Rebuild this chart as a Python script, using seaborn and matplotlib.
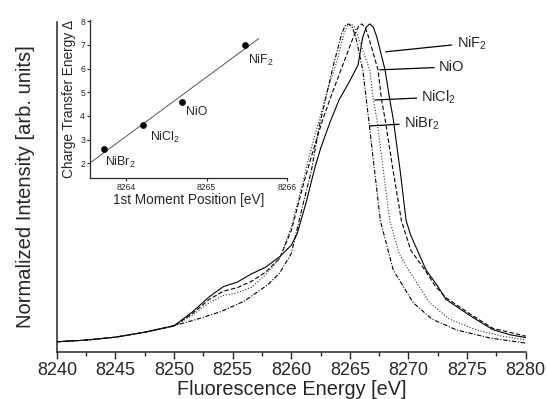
import numpy as np
import pandas as pd
import matplotlib
matplotlib.use("Agg")
import matplotlib.pyplot as plt
import seaborn as sns
from matplotlib.ticker import MultipleLocator

# Ni K-beta spectra (normalized intensity)
samples = ["NiF$_2$", "NiO", "NiCl$_2$", "NiBr$_2$"]

nif2_energy = [8240, 8242.5, 8245, 8247.5, 8250, 8251.5, 8253, 8254.2, 8255.4, 8256.6,
               8257.8, 8259, 8260, 8260.5, 8261.3, 8262, 8262.5, 8263.3, 8264.1, 8264.9,
               8265.7, 8266.1, 8266.4, 8266.7, 8267.0, 8267.3, 8268.0, 8268.4, 8268.7,
               8269.3, 8269.8, 8270.2, 8271.5, 8272.5, 8273.2, 8275.5, 8277.2, 8278.7, 8280]
nif2_intensity = [0.031, 0.036, 0.045, 0.06, 0.08, 0.12, 0.168, 0.199, 0.213, 0.238,
                  0.258, 0.29, 0.325, 0.36, 0.46, 0.56, 0.62, 0.70, 0.77, 0.82,
                  0.875, 0.96, 0.99, 1.0, 0.99, 0.96, 0.86, 0.77, 0.71,
                  0.55, 0.40, 0.355, 0.25, 0.20, 0.16, 0.105, 0.068, 0.052, 0.044]

nio_energy = [8240, 8242.5, 8245, 8247.5, 8250, 8251.5, 8253, 8254.2, 8255.4, 8256.6,
              8257.8, 8259, 8260, 8261.1, 8262, 8262.7, 8263.5, 8264.4, 8265.3, 8265.7,
              8266.0, 8266.3, 8266.6, 8267.4, 8267.7, 8268.0, 8268.7, 8269.4, 8270.2,
              8271.4, 8272.3, 8273.2, 8275.5, 8277.2, 8280]
nio_intensity = [0.031, 0.036, 0.045, 0.06, 0.079, 0.115, 0.16, 0.185, 0.196, 0.215,
                 0.243, 0.285, 0.37, 0.52, 0.63, 0.71, 0.79, 0.875, 0.96, 0.99,
                 1.0, 0.99, 0.96, 0.86, 0.77, 0.71, 0.55, 0.40, 0.31,
                 0.25, 0.20, 0.165, 0.11, 0.072, 0.048]

nicl2_energy = [8240, 8242.5, 8245, 8247.5, 8250, 8251.5, 8253, 8254.2, 8255.4, 8256.6,
                8257.8, 8259, 8260, 8261.0, 8261.7, 8262.4, 8263.1, 8263.8, 8264.5, 8264.8,
                8265.1, 8265.4, 8265.8, 8266.7, 8267.0, 8267.3, 8268.4, 8269.2, 8270.0,
                8271.8, 8273.5, 8275.8, 8278, 8280]
nicl2_intensity = [0.031, 0.036, 0.045, 0.06, 0.079, 0.11, 0.15, 0.172, 0.18, 0.197,
                   0.235, 0.285, 0.38, 0.52, 0.62, 0.71, 0.80, 0.875, 0.97, 0.995,
                   1.0, 0.99, 0.95, 0.86, 0.77, 0.71, 0.40, 0.30, 0.25,
                   0.15, 0.10, 0.067, 0.048, 0.037]

nibr2_energy = [8240, 8242.5, 8245, 8247.5, 8250, 8252, 8254, 8256, 8258, 8259,
                8260, 8261, 8261.7, 8262.4, 8263.6, 8264.3, 8264.6, 8264.9, 8265.2,
                8265.5, 8266.1, 8266.4, 8266.6, 8267.6, 8268.7, 8270.4, 8272, 8274.1,
                8277, 8280]
nibr2_intensity = [0.031, 0.036, 0.045, 0.06, 0.08, 0.10, 0.123, 0.155, 0.205, 0.24,
                   0.30, 0.45, 0.55, 0.69, 0.875, 0.97, 0.995, 1.0, 0.99,
                   0.96, 0.86, 0.77, 0.71, 0.40, 0.25, 0.15, 0.10, 0.067,
                   0.042, 0.027]

# inset: charge transfer energy vs. first moment
moment_position = [8263.72, 8264.21, 8264.69, 8265.48]
charge_transfer = [2.6, 3.6, 4.6, 7.0]

frames = []
for name, e, i in zip(samples,
                      [nif2_energy, nio_energy, nicl2_energy, nibr2_energy],
                      [nif2_intensity, nio_intensity, nicl2_intensity, nibr2_intensity]):
    frames.append(pd.DataFrame({"Energy": e, "Intensity": i, "Sample": name}))
spectra = pd.concat(frames, ignore_index=True)

sns.set_style("ticks")
plt.rcParams["font.family"] = ["Liberation Sans", "DejaVu Sans"]
plt.rcParams["mathtext.fontset"] = "custom"
plt.rcParams["mathtext.rm"] = "Liberation Sans"
plt.rcParams["mathtext.default"] = "regular"

fig = plt.figure(figsize=(5.47, 3.99), dpi=100)
ax = fig.add_axes([0.104, 0.118, 0.857, 0.827])

palette = {"NiF$_2$": "black", "NiO": "black", "NiCl$_2$": "#333333", "NiBr$_2$": "black"}
dashes = {"NiF$_2$": "", "NiO": (4, 2), "NiCl$_2$": (1, 1.6), "NiBr$_2$": (4, 1.5, 1, 1.5)}
sns.lineplot(data=spectra, x="Energy", y="Intensity", hue="Sample", style="Sample",
             palette=palette, dashes=dashes, estimator=None, legend=False,
             linewidth=0.8, ax=ax)

ax.set_xlim(8240, 8280)
ax.set_ylim(0, 1.006)
ax.set_yticks([])
ax.xaxis.set_major_locator(MultipleLocator(5))
ax.xaxis.set_minor_locator(MultipleLocator(2.5))
ax.tick_params(axis="x", which="major", length=5, width=1, labelsize=13, pad=2)
ax.tick_params(axis="x", which="minor", length=3, width=1)
for side in ["top", "right"]:
    ax.spines[side].set_visible(False)
for side in ["left", "bottom"]:
    ax.spines[side].set_linewidth(1.1)
ax.set_xlabel("Fluorescence Energy [eV]", fontsize=14.3, labelpad=1)
ax.set_ylabel("Normalized Intensity [arb. units]", fontsize=14.5, labelpad=16)

labels = [("NiF$_2$", (8268.07, 0.915), (8274.1, 0.942)),
          ("NiO", (8267.56, 0.860), (8272.6, 0.869)),
          ("NiCl$_2$", (8267.13, 0.768), (8271.1, 0.777)),
          ("NiBr$_2$", (8266.7, 0.689), (8269.6, 0.698))]
for text, xy, xytext in labels:
    ax.annotate(text, xy=xy, xytext=xytext, fontsize=10.5, ha="left", va="center",
                arrowprops=dict(arrowstyle="-", lw=0.9, color="black",
                                shrinkA=1, shrinkB=0))

# inset
ins = fig.add_axes([0.1645, 0.554, 0.360, 0.396])
ins.patch.set_alpha(0)
sns.scatterplot(x=moment_position, y=charge_transfer, color="black", s=20,
                edgecolor="black", ax=ins, zorder=3)
coef = np.polyfit(moment_position, charge_transfer, 1)
fit_x = np.array([8263.55, 8265.65])
ins.plot(fit_x, np.polyval(coef, fit_x), color="#555555", lw=0.7)
ins.set_xlim(8263.55, 8266.0)
ins.set_ylim(1.38, 8.05)
ins.set_xticks([8264, 8265, 8266])
ins.set_yticks([2, 3, 4, 5, 6, 7, 8])
ins.tick_params(labelsize=6.2, length=2, width=0.8, pad=1.5)
for side in ["top", "right"]:
    ins.spines[side].set_visible(False)
for side in ["left", "bottom"]:
    ins.spines[side].set_linewidth(0.9)
ins.set_xlabel("1st Moment Position [eV]", fontsize=9.8, labelpad=1)
ins.set_ylabel("Charge Transfer Energy \u0394", fontsize=9.8, labelpad=3)

inset_labels = [("NiBr$_2$", (8263.74, 2.05)),
                ("NiCl$_2$", (8264.30, 3.1)),
                ("NiO", (8264.75, 4.16)),
                ("NiF$_2$", (8265.52, 6.35))]
for text, pos in inset_labels:
    ins.text(pos[0], pos[1], text, fontsize=8.9, ha="left", va="center")

fig.savefig("out.png", dpi=100)
